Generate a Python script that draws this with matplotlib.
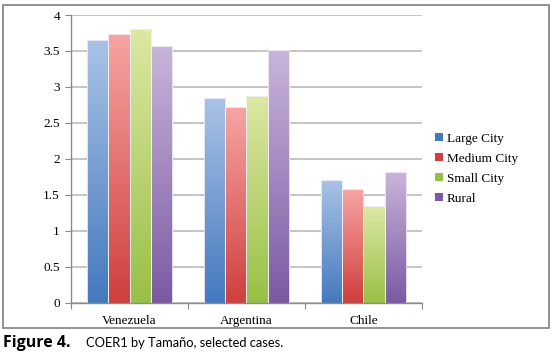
import numpy as np
import matplotlib
matplotlib.use("Agg")
import matplotlib.pyplot as plt
from matplotlib.colors import LinearSegmentedColormap
from matplotlib.patches import Rectangle

countries = ["Venezuela", "Argentina", "Chile"]
series = ["Large City", "Medium City", "Small City", "Rural"]
large_city = [3.65, 2.84, 1.71]
medium_city = [3.73, 2.72, 1.58]
small_city = [3.81, 2.88, 1.34]
rural = [3.57, 3.51, 1.82]
yticks = [0, 0.5, 1, 1.5, 2, 2.5, 3, 3.5, 4]

values = [large_city, medium_city, small_city, rural]
# (top, bottom) gradient colours per series
grads = [("#a9c3e6", "#4579be"),
         ("#f6a5a3", "#cf3f3d"),
         ("#dde8a4", "#98c046"),
         ("#c8b5da", "#7a5aa3")]

plt.rcParams['font.family'] = ['Liberation Serif', 'DejaVu Serif']

fig = plt.figure(figsize=(5.54, 3.64), dpi=100)
ax = fig.add_axes([71/554, 1 - 302.7/364, (422-71)/554, (302.7-15)/364])

x = np.arange(len(countries))
bw = 0.182
grad = np.linspace(0, 1, 256).reshape(-1, 1)
for i, (vals, (top, bot)) in enumerate(zip(values, grads)):
    cmap = LinearSegmentedColormap.from_list(series[i], [bot, top])
    offs = x + (i - 1.5) * bw
    bars = ax.bar(offs, vals, width=bw, facecolor="none",
                  edgecolor="#f4f0f8", linewidth=0.6, zorder=3,
                  label=series[i])
    for b in bars:
        bx, by = b.get_x(), b.get_y()
        im = ax.imshow(grad, cmap=cmap, origin="lower", aspect="auto",
                       extent=[bx, bx + b.get_width(), by, by + b.get_height()],
                       zorder=2)
        im.set_clip_path(b)

ax.set_xlim(-0.5, 2.5)
ax.set_ylim(0, 4)
ax.set_yticks(yticks)
ax.set_yticklabels([f"{t:g}" for t in yticks])
ax.set_xticks([-0.5, 0.5, 1.5, 2.5])
ax.set_xticklabels([])
ax.set_xticks(x, minor=True)
ax.set_xticklabels(countries, minor=True)
ax.tick_params(axis="x", which="minor", length=0, pad=9, labelsize=9.5)
ax.tick_params(axis="x", which="major", length=4, color="#888888", direction="out")
ax.tick_params(axis="y", length=4, color="#888888", labelsize=9.5, pad=4)
ax.grid(axis="y", color="#bfbfbf", linewidth=1.3, zorder=0)
ax.set_axisbelow(True)
for s in ["top", "right"]:
    ax.spines[s].set_visible(False)
for s in ["left", "bottom"]:
    ax.spines[s].set_color("#8c8c8c")
    ax.spines[s].set_linewidth(1.0)

handles = [Rectangle((0, 0), 1, 1, facecolor=grads[i][1]) for i in range(4)]
leg = fig.legend(handles, series, loc="upper left",
                 bbox_to_anchor=(423/554, 1 - 121/364), frameon=False,
                 fontsize=9.5, handlelength=0.6, handleheight=0.6,
                 handletextpad=0.3, labelspacing=0.6)

fig.add_artist(Rectangle((3/554, 1 - 328/364), 546/554, 323/364,
                         transform=fig.transFigure, fill=False,
                         edgecolor="#7f7f7f", linewidth=1.2))

fig.text(3/554, 1 - 343/364, "Figure 4.", fontsize=11.5, fontweight="bold",
         va="center", ha="left", family="Open Sans")
fig.text(86/554, 1 - 343/364, "COER1 by Tamaño, selected cases.",
         fontsize=9.3, va="center", ha="left", family="Lato")

fig.savefig("out.png", dpi=100)
